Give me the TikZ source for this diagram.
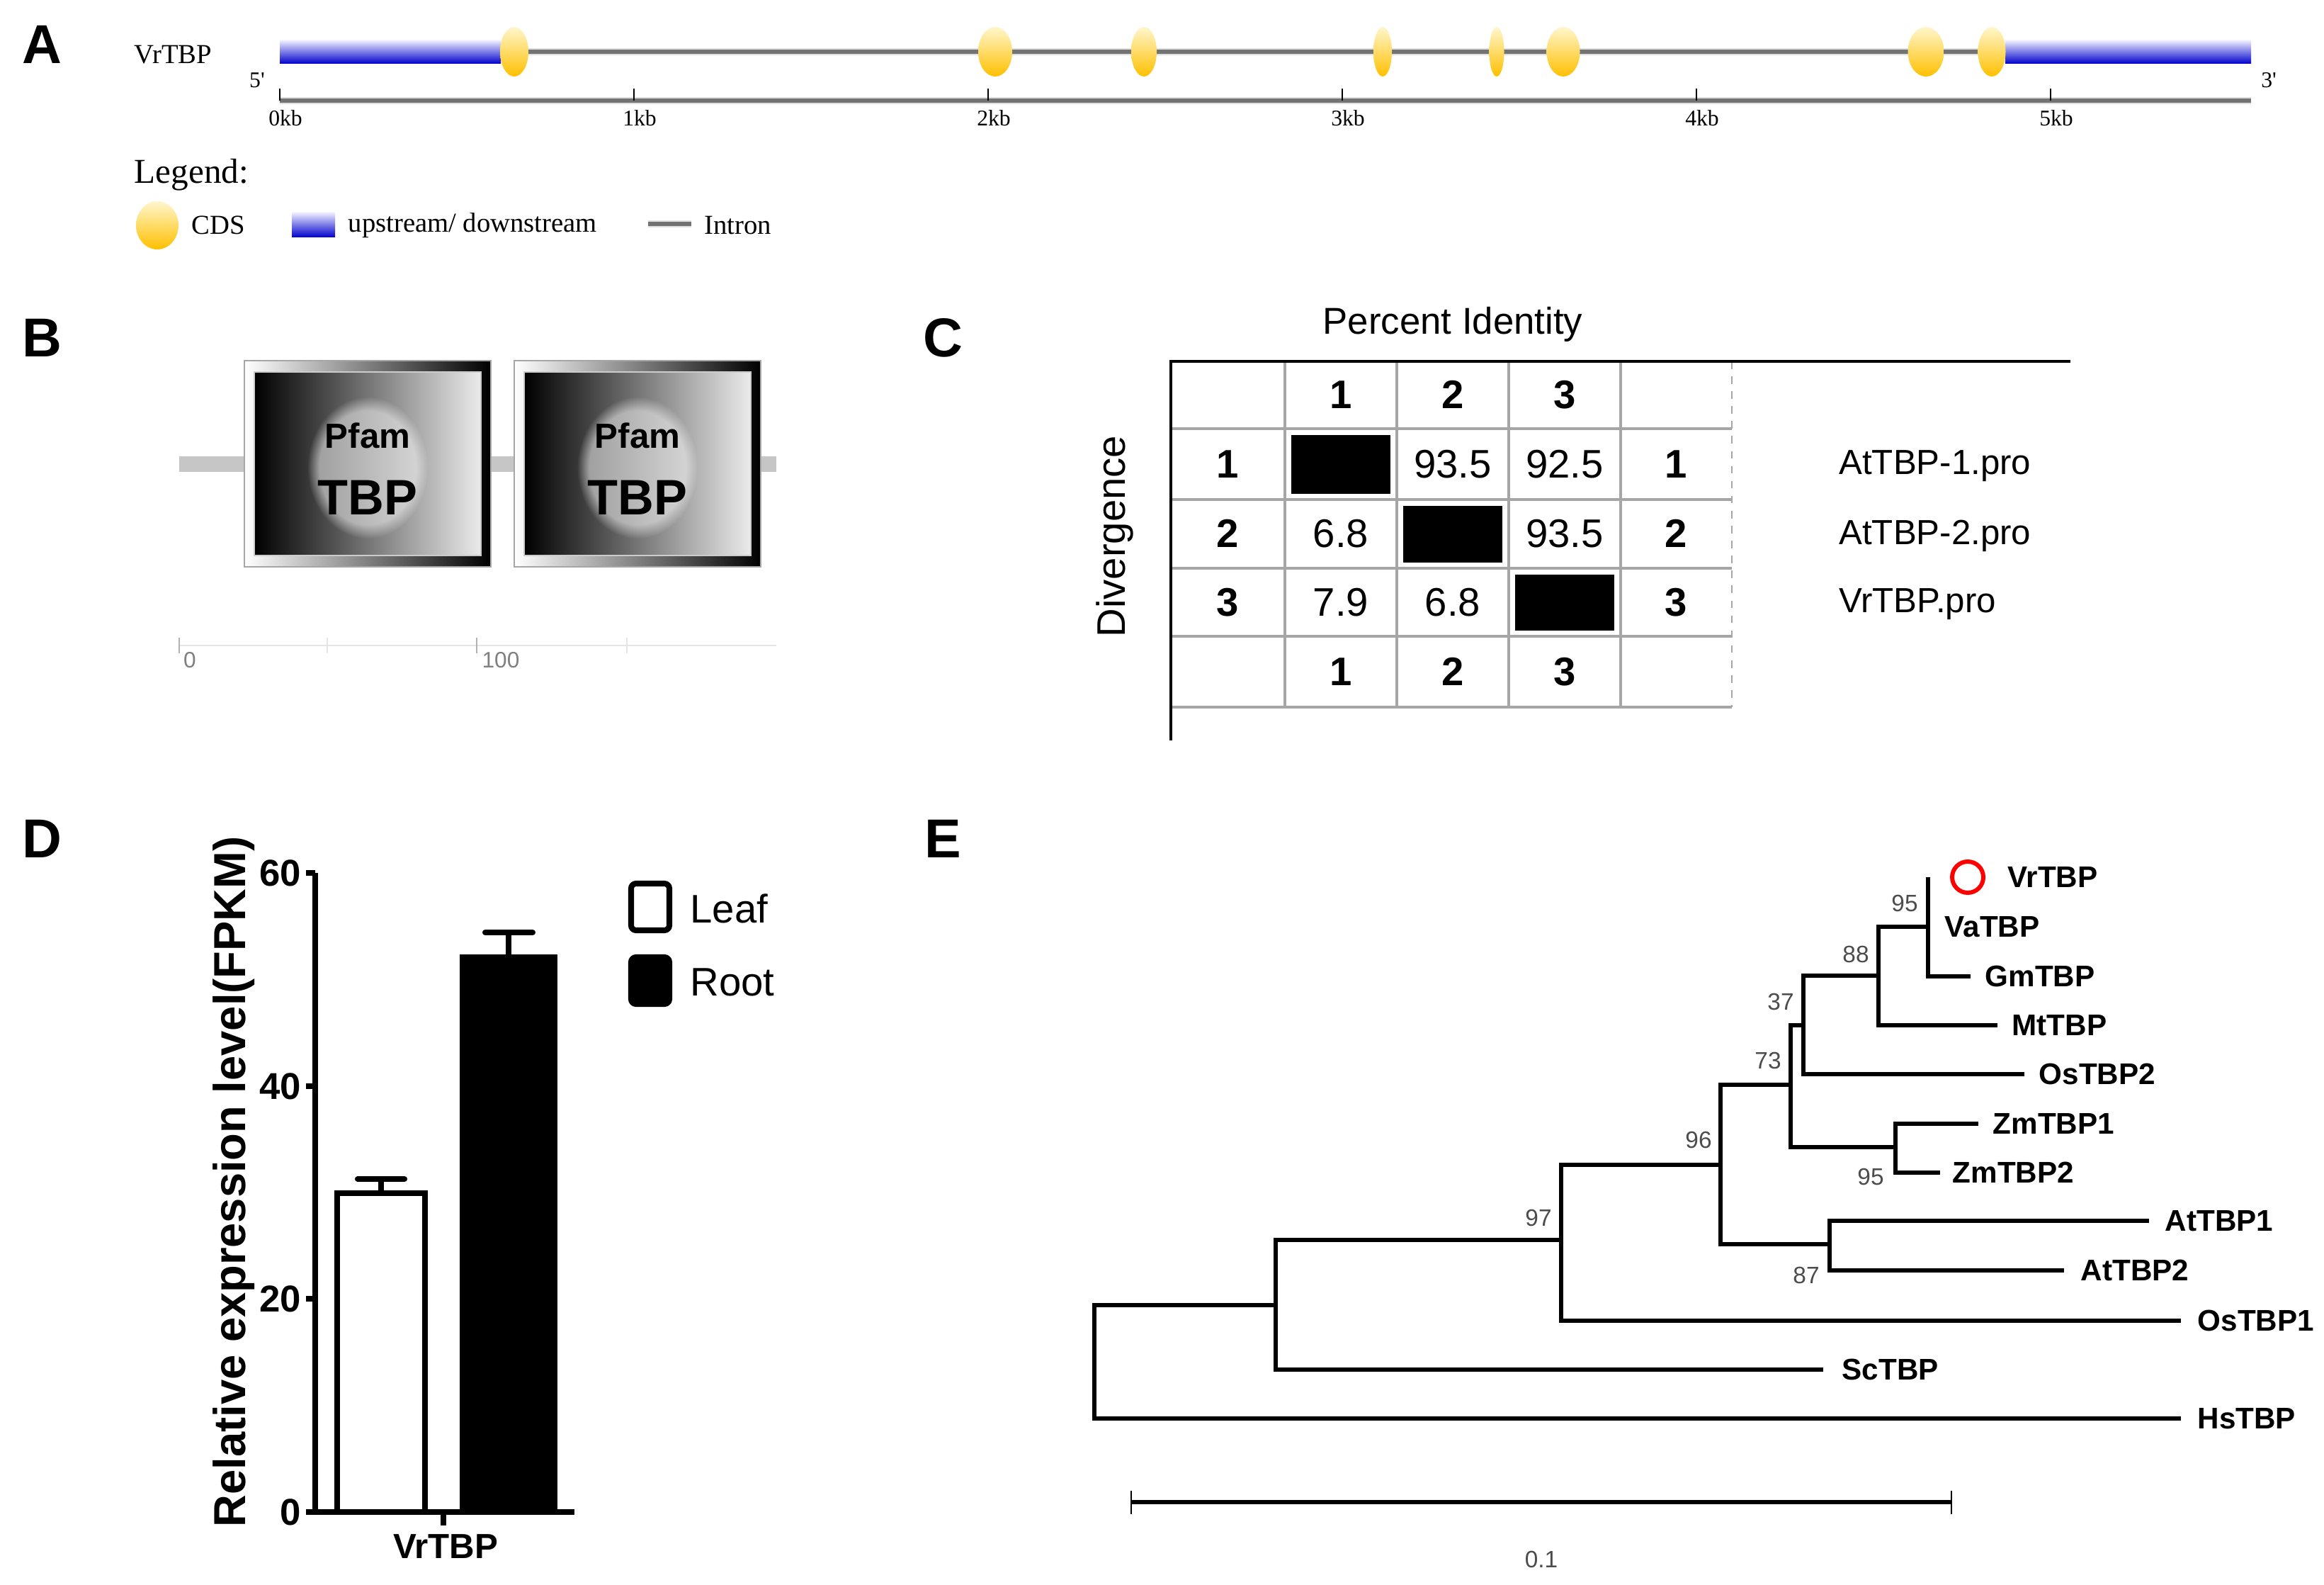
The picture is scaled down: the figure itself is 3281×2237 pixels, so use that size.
\documentclass[tikz,border=0pt]{standalone}
\usepackage{fontspec}
\setmainfont{Liberation Sans}
\newfontfamily\genefont{Liberation Serif}
\usetikzlibrary{positioning,fadings}
\newcommand{\fsz}[1]{\fontsize{#1}{#1}\selectfont}
\definecolor{cdsyellow}{RGB}{255,192,0}
\definecolor{cdslight}{RGB}{255,246,205}
\definecolor{utrblue}{RGB}{0,0,205}
\definecolor{utrlight}{RGB}{238,238,255}

\begin{document}
\begin{tikzpicture}[x=0.01cm,y=-0.01cm,
  panel label/.style={font=\bfseries\fsz{22}},
  gene text/.style={font=\genefont\fsz{11},inner sep=0pt,anchor=west},
  kb text/.style={font=\genefont\fsz{9},inner sep=0pt},
  intron back/.style={draw=gray!25,line width=2.8pt},
  intron/.style={draw=black!55,line width=1.6pt},
  domain box/.style={left color=white,right color=black,draw=gray!70,line width=0.5pt},
  domain core/.style={left color=black,right color=white!92!black,draw=white!80!black,line width=0.8pt},
  grid line/.style={draw=gray!70,line width=0.9pt},
  frame line/.style={draw=black,line width=1.4pt},
  cell text/.style={font=\fsz{16}},
  cell bold/.style={font=\bfseries\fsz{16}},
  seq name/.style={font=\fsz{14},anchor=west},
  chart line/.style={line width=2.3pt},
  tick label/.style={font=\bfseries\fsz{15},anchor=east,inner sep=0pt},
  branch/.style={line width=1.6pt},
  leaf/.style={font=\bfseries\fsz{12},inner sep=0pt},
  boot/.style={font=\fsz{9.5},text=black!70,inner sep=0pt}]
  \useasboundingbox (0,0) rectangle (3281,2237);

  % panel letters
  \node[panel label] (labA) at (59,63) {A};
  \node[panel label] (labB) at (59,477) {B};
  \node[panel label] (labC) at (1331,477) {C};
  \node[panel label] (labD) at (59,1184) {D};
  \node[panel label] (labE) at (1331,1184) {E};

  % A: gene structure
  \node[gene text] (gname) at (189,77) {VrTBP};
  \draw[intron back] (707,73) -- (2831,73);
  \draw[intron] (707,73) -- (2831,73);
  \shade[top color=utrlight,bottom color=utrblue] (395,57) rectangle (707,90);
  \shade[top color=utrlight,bottom color=utrblue] (2831,57) rectangle (3178,90);
  \foreach \cx/\w in {726/40,1405/48,1615/36,1952/26,2113/21,2207/47,2719/51,2812/39}
    \shade[top color=cdslight,bottom color=cdsyellow] (\cx,73) ellipse [x radius=\w/2,y radius=35];
  \node[kb text] (five) at (363,113) {5'};
  \node[kb text] (three) at (3203,113) {3'};
  \draw[intron back] (395,142) -- (3178,142);
  \draw[intron] (395,142) -- (3178,142);
  \foreach \k in {0,...,5}{
    \draw[line width=0.6pt] ({395+500*\k},125) -- ({395+500*\k},142);
    \node[kb text] (kb\k) at ({403+500*\k},167) {\k kb};
  }
  % legend
  \node[gene text,font=\genefont\fsz{14}] (leg) at (189,247) {Legend:};
  \shade[top color=cdslight,bottom color=cdsyellow] (222,318) ellipse [x radius=30,y radius=34];
  \node[gene text] (legcds) at (270,318) {CDS};
  \shade[top color=utrlight,bottom color=utrblue] (412,300) rectangle (473,335);
  \node[gene text] (legutr) at (491,318) {upstream/ downstream};
  \draw[intron back] (915,316) -- (976,316);
  \draw[intron] (915,316) -- (976,316);
  \node[gene text] (legint) at (994,318) {Intron};

  % B: domains
  \draw[line width=6.5pt,gray!45] (253,655) -- (1096,655);
  \foreach \x/\n in {345/1,726/2}{
    \shade[domain box] (\x,509) rectangle ({\x+348},800);
    \shade[domain core] ({\x+14},525) rectangle ({\x+334},784);
    \fill[white,opacity=0.5,path fading=circle with fuzzy edge 20 percent] ({\x+174},660) ellipse [x radius=85,y radius=100];
    \node[font=\bfseries\fsz{14}] (pfam\n) at ({\x+174},615) {Pfam};
    \node[font=\bfseries\fsz{20}] (tbp\n) at ({\x+174},702) {TBP};
  }
  \draw[gray!20,line width=0.6pt] (253,911) -- (1096,911);
  \foreach \t/\c in {253/60,462/20,673/60,885/20}
    \draw[gray!\c,line width=0.6pt] (\t,900) -- (\t,922);
  \node[font=\fsz{9},text=gray,inner sep=0pt] (ax0) at (268,932) {0};
  \node[font=\fsz{9},text=gray,inner sep=0pt] (ax100) at (707,932) {100};

  % C: identity matrix
  \node[font=\fsz{15}] (pid) at (2051,458) {Percent Identity};
  \node[font=\fsz{16},rotate=90] (div) at (1574,757) {Divergence};
  \foreach \yy in {605,705,802,898,998}
    \draw[grid line] (1653,\yy) -- (2445,\yy);
  \foreach \xx in {1814,1972,2130,2288}
    \draw[grid line] (\xx,510) -- (\xx,998);
  \draw[gray!70,line width=0.5pt,dashed] (2445,510) -- (2445,998);
  \draw[frame line] (2923,510) -- (1653,510) -- (1653,1045);
  \fill (1823,614) rectangle (1963,697);
  \fill (1981,714) rectangle (2121,794);
  \fill (2139,811) rectangle (2279,890);
  \foreach \i/\cx in {1/1893,2/2051,3/2209}{
    \node[cell bold] (top\i) at (\cx,557) {\i};
    \node[cell bold] (bot\i) at (\cx,948) {\i};
  }
  \foreach \i/\cy in {1/655,2/753,3/850}{
    \node[cell bold] (rl\i) at (1733,\cy) {\i};
    \node[cell bold] (rr\i) at (2366,\cy) {\i};
  }
  \node[cell text] (c12) at (2051,655) {93.5};
  \node[cell text] (c13) at (2209,655) {92.5};
  \node[cell text] (c21) at (1893,753) {6.8};
  \node[cell text] (c23) at (2209,753) {93.5};
  \node[cell text] (c31) at (1893,850) {7.9};
  \node[cell text] (c32) at (2051,850) {6.8};
  \node[seq name] (s1) at (2584,658) {AtTBP-1.pro};
  \node[seq name] (s2) at (2584,756) {AtTBP-2.pro};
  \node[seq name] (s3) at (2584,853) {VrTBP.pro};

  % D: expression bars
  \coordinate (ytop) at (445,1232);
  \coordinate (orig) at (445,2134);
  \coordinate (xend) at (811,2134);
  \draw[chart line] (ytop) -- (orig) -- (xend);
  \foreach \v/\yy in {0/2134,20/1833,40/1533,60/1232}{
    \draw[chart line] (432,\yy) -- (445,\yy);
    \node[tick label] (yt\v) at (426,\yy) {\v};
  }
  \draw[chart line] (626,2134) -- (626,2153);
  \draw[chart line,fill=white] (476,2134) rectangle (600,1684);
  \draw[chart line] (538,1684) -- (538,1664);
  \draw[chart line,line cap=round] (505,1664) -- (571,1664);
  \draw[chart line,fill=black] (653,2134) rectangle (783,1351);
  \draw[chart line] (718,1351) -- (718,1316);
  \draw[chart line,line cap=round] (685,1316) -- (752,1316);
  \node[font=\bfseries\fsz{14}] (xlab) at (629,2183) {VrTBP};
  \node[font=\bfseries\fsz{18},rotate=90] (ylab) at (330,1668) {Relative expression level(FPKM)};
  \draw[chart line,rounded corners=2pt] (891,1247) rectangle (945,1313);
  \draw[chart line,rounded corners=2pt,fill=black] (891,1351) rectangle (945,1417);
  \node[font=\fsz{16},anchor=west] (leafkey) at (962,1282) {Leaf};
  \node[font=\fsz{16},anchor=west] (rootkey) at (962,1386) {Root};

  % E: neighbour-joining tree
  \coordinate (root) at (1545,1922);
  \coordinate (nSc) at (1801,1842);
  \coordinate (n97) at (2204,1750);
  \coordinate (n96) at (2429,1644);
  \coordinate (n73) at (2528,1531);
  \coordinate (n37) at (2546,1447);
  \coordinate (n88) at (2652,1377);
  \coordinate (n95) at (2722,1308);
  \coordinate (nZm) at (2676,1619);
  \coordinate (nAt) at (2583,1756);
  \coordinate (tVr) at (2722,1238);
  \coordinate (tVa) at (2722,1308);
  \coordinate (tGm) at (2782,1378);
  \coordinate (tMt) at (2820,1447);
  \coordinate (tOs2) at (2858,1516);
  \coordinate (tZm1) at (2793,1586);
  \coordinate (tZm2) at (2739,1655);
  \coordinate (tAt1) at (3034,1723);
  \coordinate (tAt2) at (2914,1793);
  \coordinate (tOs1) at (3079,1864);
  \coordinate (tSc) at (2574,1933);
  \coordinate (tHs) at (3079,2002);

  \draw[branch] (root) |- (nSc) (root) |- (tHs)
    (nSc) |- (n97) (nSc) |- (tSc)
    (n97) |- (n96) (n97) |- (tOs1)
    (n96) |- (n73) (n96) |- (nAt)
    (n73) |- (n37) (n73) |- (nZm)
    (n37) |- (n88) (n37) |- (tOs2)
    (n88) |- (n95) (n88) |- (tMt)
    (n95) |- (tVr) (n95) |- (tGm)
    (nZm) |- (tZm1) (nZm) |- (tZm2)
    (nAt) |- (tAt1) (nAt) |- (tAt2);

  \node[draw=red,line width=1.7pt,circle,minimum size=4.4mm,inner sep=0pt] (vrmark) [right=3.1mm of tVr] {};
  \node[leaf] (lVr) [right=3.1mm of vrmark] {VrTBP};
  \node[leaf] (lVa) [right=2.3mm of tVa] {VaTBP};
  \node[leaf] (lGm) [right=2mm of tGm] {GmTBP};
  \node[leaf] (lMt) [right=2mm of tMt] {MtTBP};
  \node[leaf] (lOs2) [right=2mm of tOs2] {OsTBP2};
  \node[leaf] (lZm1) [right=2mm of tZm1] {ZmTBP1};
  \node[leaf] (lZm2) [right=1.7mm of tZm2] {ZmTBP2};
  \node[leaf] (lAt1) [right=2.2mm of tAt1] {AtTBP1};
  \node[leaf] (lAt2) [right=2.3mm of tAt2] {AtTBP2};
  \node[leaf] (lOs1) [right=2.3mm of tOs1] {OsTBP1};
  \node[leaf] (lSc) [right=2.6mm of tSc] {ScTBP};
  \node[leaf] (lHs) [right=2.3mm of tHs] {HsTBP};

  \node[boot] (b95a) at (2689,1275) {95};
  \node[boot] (b88) at (2620,1347) {88};
  \node[boot] (b37) at (2514,1414) {37};
  \node[boot] (b73) at (2496,1497) {73};
  \node[boot] (b96) at (2398,1609) {96};
  \node[boot] (b97) at (2172,1719) {97};
  \node[boot] (b95b) at (2641,1661) {95};
  \node[boot] (b87) at (2550,1800) {87};

  % scale bar
  \coordinate (sbl) at (1597,2120);
  \coordinate (sbr) at (2755,2120);
  \draw[branch] (sbl) -- (sbr);
  \draw[line width=0.8pt] (1597,2104) -- (1597,2137) (2755,2104) -- (2755,2137);
  \node[boot] (sbtext) at (2176,2201) {0.1};
\end{tikzpicture}
\end{document}
